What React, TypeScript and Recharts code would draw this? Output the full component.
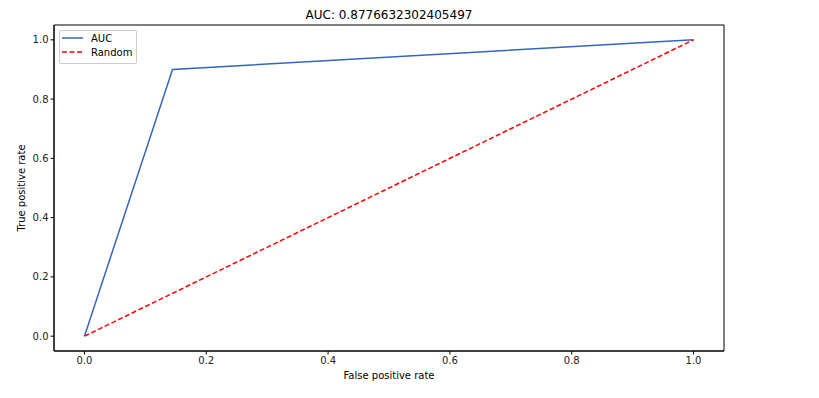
import React from 'react';
import { LineChart, Line, XAxis, YAxis, ReferenceArea } from 'recharts';

const aucFpr = [0, 0.1446, 1];
const aucTpr = [0, 0.9, 1];
const randomFpr = [0, 1];
const randomTpr = [0, 1];
const ticks = [0, 0.2, 0.4, 0.6, 0.8, 1.0];
const title = 'AUC: 0.8776632302405497';

const aucData = aucFpr.map((x, i) => ({ x, y: aucTpr[i] }));
const randomData = randomFpr.map((x, i) => ({ x, y: randomTpr[i] }));

const FONT = 'DejaVu Sans, sans-serif';

export default function App() {
  return (
    <div style={{ position: 'absolute', left: 0, top: 0, width: 819, height: 398, background: '#fff', fontFamily: FONT }}>
      <div style={{ position: 'absolute', left: 54, width: 670, top: 8, textAlign: 'center', fontSize: 12, color: '#000' }}>{title}</div>
      <LineChart width={819} height={398} margin={{ top: 25, right: 95, left: 0, bottom: 0 }}>
        <XAxis
          dataKey="x"
          type="number"
          domain={[-0.05, 1.05]}
          ticks={ticks}
          tickFormatter={(v: number) => v.toFixed(1)}
          allowDataOverflow
          height={47}
          stroke="#000"
          tickSize={3.5}
          tick={{ fontSize: 10, fill: '#222', fontFamily: FONT }}
          label={{ value: 'False positive rate', position: 'insideBottom', offset: 19, fontSize: 10, fill: '#000', fontFamily: FONT }}
        />
        <YAxis
          dataKey="y"
          type="number"
          domain={[-0.05, 1.05]}
          ticks={ticks}
          tickFormatter={(v: number) => v.toFixed(1)}
          allowDataOverflow
          width={54}
          stroke="#000"
          tickSize={3.5}
          tick={{ fontSize: 10, fill: '#222', fontFamily: FONT }}
          label={{ value: 'True positive rate', angle: -90, position: 'insideLeft', offset: 21, fontSize: 10, fill: '#000', fontFamily: FONT, style: { textAnchor: 'middle' } }}
        />
        <ReferenceArea x1={-0.05} x2={1.05} y1={-0.05} y2={1.05} fill="none" stroke="#000" strokeWidth={1} ifOverflow="visible" />
        <Line data={aucData} dataKey="y" stroke="#3366bb" strokeWidth={1.5} dot={false} isAnimationActive={false} />
        <Line data={randomData} dataKey="y" stroke="#ff0000" strokeWidth={1.5} strokeDasharray="5 2.5" dot={false} isAnimationActive={false} />
      </LineChart>
      <div style={{ position: 'absolute', left: 59, top: 30, width: 76, height: 32, border: '1px solid #ccc', borderRadius: 2, background: '#fff', fontSize: 10, color: '#000', whiteSpace: 'nowrap' }}>
        <svg style={{ position: 'absolute', left: 2, top: 5 }} width={22} height={4}><line x1={0} y1={2} x2={21} y2={2} stroke="#3366bb" strokeWidth={1.5} /></svg>
        <span style={{ position: 'absolute', left: 31, top: 2, lineHeight: '12px' }}>AUC</span>
        <svg style={{ position: 'absolute', left: 2, top: 19 }} width={22} height={4}><line x1={0} y1={2} x2={21} y2={2} stroke="#ff0000" strokeWidth={1.5} strokeDasharray="5 2.5" /></svg>
        <span style={{ position: 'absolute', left: 31, top: 16, lineHeight: '12px' }}>Random</span>
      </div>
    </div>
  );
}
